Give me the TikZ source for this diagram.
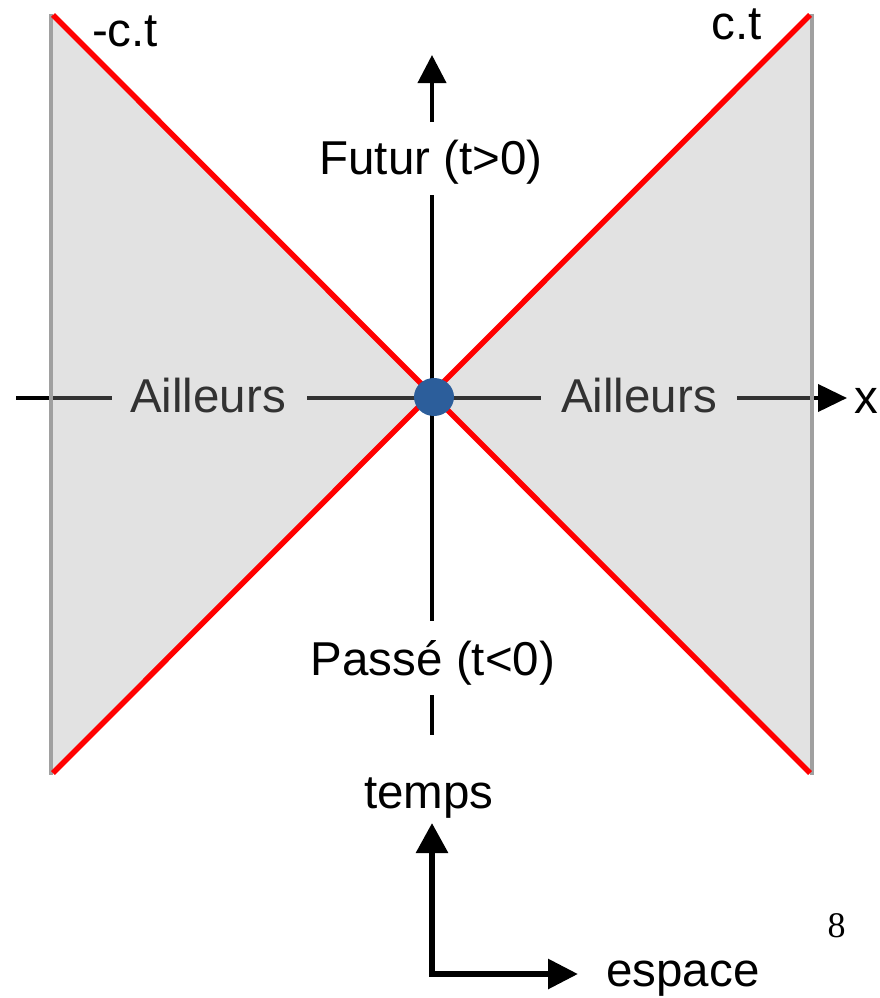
\documentclass[tikz,border=0pt]{standalone}
\usepackage{fontspec}
\setmainfont{Liberation Sans}
\newfontfamily\pagenumfont{Liberation Serif}
\usetikzlibrary{arrows.meta,shapes.geometric}
\definecolor{conered}{RGB}{255,0,0}
\definecolor{shadegray}{RGB}{162,162,162}
\definecolor{edgegray}{RGB}{160,160,160}
\definecolor{dotblue}{RGB}{44,94,155}
\tikzset{
  lbl/.style={font=\fontsize{47.5}{52}\selectfont, inner sep=0pt, anchor=base},
  axisline/.style={line width=4pt, black},
  shade/.style={fill=shadegray, fill opacity=0.31, draw=none},
  coneline/.style={line width=5.5pt, conered},
  edgeline/.style={line width=3.5pt, edgegray},
  bigarrow/.style={line width=6pt, black},
  eventdot/.style={ellipse, fill=dotblue, draw=none, inner sep=0pt, minimum width=40pt, minimum height=38pt},
}
\begin{document}
\begin{tikzpicture}[x=1pt,y=-1pt]
\useasboundingbox (0,0) rectangle (880,998);
% key points
\coordinate (O) at (432,397);
\coordinate (TL) at (51,15);
\coordinate (BL) at (51,773);
\coordinate (TR) at (812,15);
\coordinate (BR) at (812,773);
% axis labels
\node[lbl] (ailL) at (208,412) {Ailleurs};
\node[lbl] (ailR) at (639,412) {Ailleurs};
\node[lbl] (fut) at (431,174) {Futur (t>0)};
\node[lbl] (pas) at (433,675) {Passé (t<0)};
\node[lbl] (xlab) at (866,413) {x};
% horizontal axis (broken by labels)
\coordinate (xl) at (16,398);
\coordinate (xa) at (112,398);
\coordinate (xb) at (307,398);
\coordinate (xc) at (541,398);
\coordinate (xd) at (737,398);
\coordinate (xr) at (847,398);
\draw[axisline] (xl) -- (xa);
\draw[axisline] (xb) -- (xc);
\draw[axisline, -{Triangle[length=29pt,width=27pt]}] (xd) -- (xr);
% vertical axis (broken by labels)
\coordinate (ytop) at (432,55);
\coordinate (y1) at (432,122);
\coordinate (y2) at (432,195);
\coordinate (y3) at (432,621);
\coordinate (y4) at (432,695);
\coordinate (y5) at (432,735);
\draw[axisline, -{Triangle[length=28pt,width=28pt]}] (y1) -- (ytop);
\draw[axisline] (y2) -- (y3);
\draw[axisline] (y4) -- (y5);
% shaded "ailleurs" regions
\fill[shade] (TL) -- (O) -- (BL) -- cycle;
\fill[shade] (TR) -- (O) -- (BR) -- cycle;
% edges
\draw[edgeline] (51,14) -- (51,775);
\draw[edgeline] (812,14) -- (812,775);
% light cone
\coordinate (rTL) at (53,15);
\coordinate (rBL) at (53,773);
\coordinate (rTR) at (810,15);
\coordinate (rBR) at (810,773);
\draw[coneline] (rTL) -- (rBR);
\draw[coneline] (rBL) -- (rTR);
% origin event
\node[eventdot] (dot) at (434,397) {};
% cone labels
\node[lbl] (mct) at (125,47) {-c.t};
\node[lbl] (ct) at (737,40) {c.t};
% bottom reference frame
\node[lbl] (temps) at (429,808) {temps};
\node[lbl] (espace) at (683,986) {espace};
\coordinate (corner) at (432,974);
\coordinate (cornerh) at (429,974);
\coordinate (tup) at (432,823);
\coordinate (eright) at (578,974);
\draw[bigarrow, -{Triangle[length=30pt,width=31pt]}] (corner) -- (tup);
\draw[bigarrow, -{Triangle[length=30pt,width=29pt]}] (cornerh) -- (eright);
% page number
\node[font=\pagenumfont\fontsize{36}{40}\selectfont, inner sep=0pt, anchor=base] (pnum) at (836.5,937) {8};
\end{tikzpicture}
\end{document}
